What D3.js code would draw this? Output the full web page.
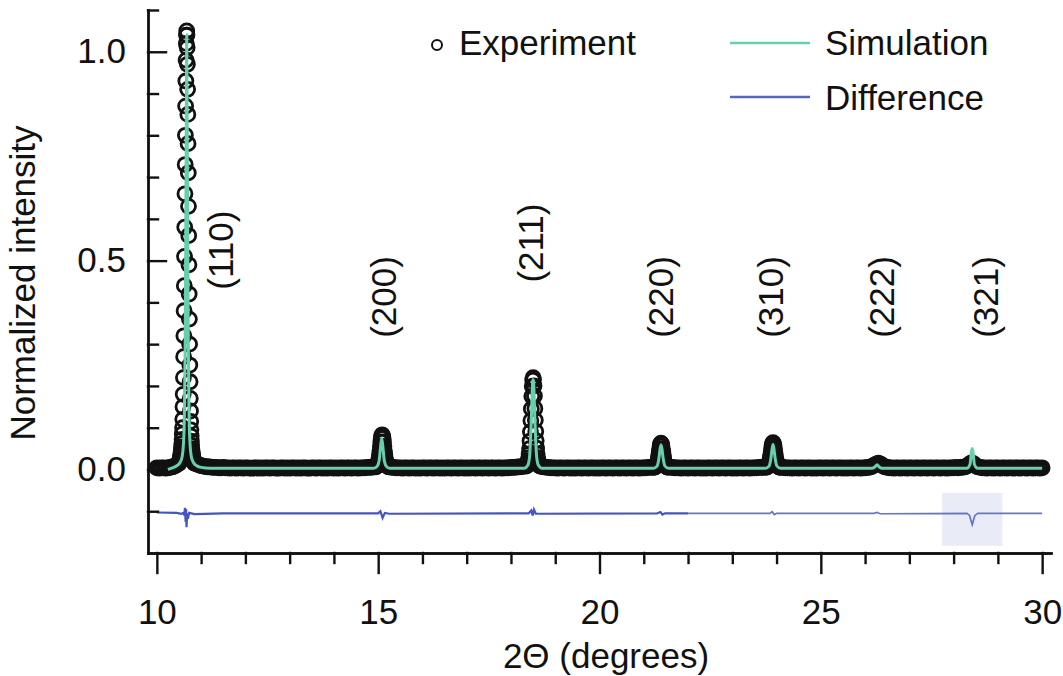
<!DOCTYPE html>
<html>
<head>
<meta charset="utf-8">
<script src="https://cdn.jsdelivr.net/npm/d3@7"></script>
<style>
  body { margin: 0; background: #fff; }
  text { font-family: "Liberation Sans", Arial, Helvetica, sans-serif; fill: #111; }
</style>
</head>
<body>
<svg id="xrd_chart" width="1063" height="676"></svg>
<script>
// ---- data ----
// experimental points, stored as (start, step, values) runs like an XRD scan file
const expBase1 = [.004,.003,.004,.004,.003,.004,.005,.006,.008,.011];
const exp110 = [
  .015,.016,.018,.020,.022,.024,.027,.030,.033,.037,.042,.047,.054,.062,.072,.085,.10,.12,.15,.18,
  .22,.27,.32,.38,.44,.51,.58,.66,.73,.80,.87,.93,.98,1.02,1.04,
  1.05,
  1.04,1.01,.97,.91,.85,.78,.71,.63,.56,.49,.42,.36,.30,.25,.21,.17,.14,.115,.095,.08,
  .068,.058,.05,.044,.039,.035,.031,.028,.025,.023,.021,.019,.017,.016,.015];
const expBase2 = [
  .013,.011,.009,.008,.007,.006,.006,.005,.005,.005,
  .004,.004,.005,.004,.004,.003,.004,.004,.003,.004,
  .004,.003,.004,.004,.003,.003,.004,.004,.003,.004,
  .003,.004,.004,.003,.004,.004,.003,.003,.004,.004,
  .003,.004,.003,.004,.004,.003,.004,.003,.004,.004,
  .003,.003,.004,.004,.003,.004,.004,.003,.004,.003,
  .004,.004,.003,.004,.003,.004,.004,.003,.004,.004,
  .003,.004,.004,.003,.004,.004,.004,.005,.005,.005,
  .006];
const exp200 = [.006,.007,.008,.009,.011,.013,.017,.021,.028,.036,.045,.055,.066,.075,.080,.083,
  .080,.075,.066,.055,.045,.036,.028,.021,.017,.013,.011,.009,.008,.007,.006];
const expBase3 = [
  .005,.005,.004,.004,.004,.003,.004,.004,.003,.004,
  .004,.003,.004,.003,.004,.004,.003,.004,.004,.003,
  .004,.004,.003,.004,.003,.004,.004,.003,.004,.004,
  .003,.004,.004,.003,.004,.003,.004,.004,.003,.004,
  .004,.003,.004,.004,.003,.004,.004,.003,.004,.004,
  .003,.004,.004,.004,.005,.005,.005,.006,.006,.007,
  .008];
const exp211 = [.008,.010,.013,.016,.021,.028,.037,.050,.068,.090,.117,.145,.175,.199,.214,.220,
  .215,.200,.176,.146,.118,.091,.069,.051,.038,.029,.022,.017,.013,.010,.008];
const expBase4 = [
  .007,.006,.005,.005,.004,.004,.004,.003,.004,.004,
  .003,.004,.004,.003,.004,.003,.004,.004,.003,.004,
  .004,.003,.004,.004,.003,.004,.003,.004,.004,.003,
  .004,.004,.003,.004,.004,.003,.004,.004,.003,.004,
  .004,.003,.004,.004,.003,.004,.004,.004,.005,.005,
  .005];
const exp220 = [.005,.006,.007,.008,.009,.011,.013,.017,.021,.027,.034,.042,.050,.057,.061,.063,
  .061,.057,.050,.042,.034,.027,.021,.017,.013,.011,.009,.008,.007,.006,.005];
const expBase5 = [
  .005,.005,.004,.004,.004,.003,.004,.004,.003,.004,
  .004,.003,.004,.004,.003,.004,.003,.004,.004,.003,
  .004,.004,.003,.004,.004,.003,.004,.004,.003,.004,
  .003,.004,.004,.003,.004,.004,.003,.004,.004,.004,
  .005,.005,.005];
const exp310 = [.005,.006,.007,.008,.010,.012,.014,.018,.022,.028,.035,.043,.051,.058,.062,.064,
  .062,.058,.051,.043,.035,.028,.022,.018,.014,.012,.010,.008,.007,.006,.005];
const expBase6 = [
  .005,.005,.004,.004,.004,.003,.004,.004,.003,.004,
  .004,.003,.004,.004,.003,.004,.003,.004,.004,.003,
  .004,.004,.003,.004,.004,.003,.004,.004,.003,.004,
  .003,.004,.004,.003,.004,.004,.003,.004,.004,.005,
  .005,.007,.010,.013,.015,.013,.009,.006,.005,.004,
  .004,.003,.004,.004,.003,.004,.004,.003,.004,.004,
  .003,.004,.004,.003,.004,.004,.003,.004,.004,.003,
  .004,.004,.003,.004,.004,.003,.004,.004,.004,.005,
  .004,.005,.005,.006,.008,.012,.016,.014,.009,.006,
  .005,.004,.004,.003,.004,.004,.003,.004,.004,.003,
  .004,.004,.003,.004,.004,.003,.004,.004,.003,.004,
  .004,.003,.004,.004,.003,.004,.004,.003,.004];

const expRuns = [
  [10.00, 0.05, expBase1],
  [10.50, 0.005, exp110],
  [10.90, 0.05, expBase2],
  [14.94, 0.01, exp200],
  [15.30, 0.05, expBase3],
  [18.35, 0.01, exp211],
  [18.70, 0.05, expBase4],
  [21.24, 0.01, exp220],
  [21.60, 0.05, expBase5],
  [23.77, 0.01, exp310],
  [24.10, 0.05, expBase6]
];

// simulated profile (2theta, intensity)
const simData = [
  [10.25,.000],[10.35,.004],[10.45,.009],[10.52,.016],[10.57,.03],[10.60,.06],[10.62,.12],[10.64,.30],
  [10.655,.60],[10.668,.90],[10.675,1.04],[10.682,.90],[10.695,.60],[10.71,.30],[10.73,.12],[10.75,.06],
  [10.78,.03],[10.83,.016],[10.9,.009],[11.0,.005],[11.2,.003],
  [14.9,.003],[14.98,.008],[15.02,.02],[15.05,.05],[15.08,.075],[15.11,.05],[15.14,.02],[15.18,.008],[15.26,.003],
  [18.3,.003],[18.38,.01],[18.42,.03],[18.46,.12],[18.49,.21],[18.50,.215],[18.51,.21],[18.54,.12],[18.58,.03],[18.62,.01],[18.7,.003],
  [21.22,.003],[21.3,.008],[21.34,.025],[21.37,.05],[21.39,.058],[21.41,.05],[21.44,.025],[21.48,.008],[21.56,.003],
  [23.75,.003],[23.83,.008],[23.87,.025],[23.90,.05],[23.92,.06],[23.94,.05],[23.97,.025],[24.01,.008],[24.09,.003],
  [26.15,.003],[26.22,.006],[26.27,.011],[26.32,.006],[26.39,.003],
  [28.30,.003],[28.37,.012],[28.40,.04],[28.42,.05],[28.44,.04],[28.47,.012],[28.54,.003],[30.0,.003]
];

// difference curve (offset below zero)
const diffData = [
  [10.0,-.103],[10.45,-.104],[10.55,-.106],[10.60,-.104],[10.62,-.110],[10.635,-.092],[10.65,-.125],
  [10.66,-.095],[10.67,-.138],[10.685,-.105],[10.70,-.118],[10.73,-.104],[10.85,-.107],[11.5,-.105],
  [15.0,-.105],[15.05,-.100],[15.10,-.116],[15.15,-.104],[15.25,-.106],
  [18.40,-.105],[18.46,-.098],[18.49,-.110],[18.52,-.096],[18.56,-.106],
  [21.30,-.105],[21.38,-.102],[21.42,-.108],[21.48,-.105],[22.0,-.105],
  [23.85,-.105],[23.90,-.101],[23.95,-.108],[24.0,-.105],
  [26.2,-.105],[26.27,-.103],[26.34,-.106],
  [28.30,-.105],[28.36,-.110],[28.42,-.132],[28.48,-.110],[28.55,-.105],[30.0,-.105]
];

// highlighted box around the (321) misfit
const shadeX = [27.74, 29.1];
const shadeY = [-0.183, -0.056];

const peakNames = ["(110)", "(200)", "(211)", "(220)", "(310)", "(222)", "(321)"];
const peakLabelX = [11.43, 15.11, 18.44, 21.38, 23.87, 26.36, 28.73];
const peakLabelY = [0.525, 0.413, 0.542, 0.413, 0.413, 0.413, 0.413];

const xMajor = [10, 15, 20, 25, 30];
const xMinor = [11, 12, 13, 14, 16, 17, 18, 19, 21, 22, 23, 24, 26, 27, 28, 29];
const yMajor = [0, 0.5, 1.0];
const yMinor = [-0.1, 0.1, 0.2, 0.3, 0.4, 0.6, 0.7, 0.8, 0.9, 1.1];

// ---- layout ----
const margin = {top: 10, right: 12, bottom: 123, left: 148},
    width = 1063 - margin.left - margin.right,
    height = 676 - margin.top - margin.bottom;

const simColor = "#68cfae";
const diffColor = "#4356c0";

const svg = d3.select("#xrd_chart");
const g = svg.append("g")
    .attr("transform", `translate(${margin.left}, ${margin.top})`);

const x = d3.scaleLinear().domain([9.8, 30.2]).range([0, width]);
const y = d3.scaleLinear().domain([-0.2, 1.1]).range([height, 0]);

// shaded box
g.append("rect")
  .attr("x", x(shadeX[0]))
  .attr("y", y(shadeY[1]))
  .attr("width", x(shadeX[1]) - x(shadeX[0]))
  .attr("height", y(shadeY[0]) - y(shadeY[1]))
  .attr("fill", "#e9ecf7");

// difference line (darker up to 22, lighter after)
const line = d3.line().x(d => x(d[0])).y(d => y(d[1]));
g.append("path")
  .datum(diffData.filter(d => d[0] <= 22))
  .attr("fill", "none")
  .attr("stroke", diffColor)
  .attr("stroke-width", 2.2)
  .attr("d", line);
g.append("path")
  .datum(diffData.filter(d => d[0] >= 22))
  .attr("fill", "none")
  .attr("stroke", "#6575cc")
  .attr("stroke-width", 1.7)
  .attr("d", line);

// experimental circles
const expPoints = expRuns.flatMap(([x0, dx, ys]) => ys.map((v, i) => [x0 + i * dx, v]));
g.append("g")
  .selectAll("circle")
  .data(expPoints)
  .join("circle")
    .attr("cx", d => x(d[0]))
    .attr("cy", d => y(d[1]))
    .attr("r", 7)
    .attr("fill", "none")
    .attr("stroke", "#111")
    .attr("stroke-width", 2.8);

// simulation
g.append("path")
  .datum(simData)
  .attr("fill", "none")
  .attr("stroke", simColor)
  .attr("stroke-width", 3)
  .attr("d", d3.line().curve(d3.curveMonotoneX).x(d => x(d[0])).y(d => y(d[1])));

// axes
function styleAxis(sel) {
  sel.selectAll("path, line").attr("stroke", "#111").attr("stroke-width", 2.4).attr("stroke-linecap", "square");
  sel.selectAll("text").style("font-size", "35px").attr("fill", "#111");
}
g.append("g")
  .attr("transform", `translate(0, ${height})`)
  .call(d3.axisBottom(x).tickValues(xMinor).tickSize(10).tickSizeOuter(0).tickFormat(""))
  .call(styleAxis);
g.append("g")
  .attr("transform", `translate(0, ${height})`)
  .call(d3.axisBottom(x).tickValues(xMajor).tickSize(20).tickSizeOuter(0).tickPadding(26).tickFormat(d3.format("d")))
  .call(styleAxis);
g.append("g")
  .call(d3.axisLeft(y).tickValues(yMinor).tickSize(-10).tickSizeOuter(0).tickFormat(""))
  .call(styleAxis);
g.append("g")
  .call(d3.axisLeft(y).tickValues(yMajor).tickSize(-18).tickSizeOuter(0).tickPadding(22).tickFormat(d3.format(".1f")))
  .call(styleAxis);

// axis titles
svg.append("text")
  .attr("transform", "translate(35, 283) rotate(-90)")
  .style("text-anchor", "middle")
  .style("font-size", "35px")
  .text("Normalized intensity");
svg.append("text")
  .attr("x", 606)
  .attr("y", 668)
  .style("text-anchor", "middle")
  .style("font-size", "35px")
  .text("2\u0398 (degrees)");

// peak labels
g.selectAll(".peak-label")
  .data(peakNames)
  .join("text")
    .attr("class", "peak-label")
    .attr("transform", (d, i) => `translate(${x(peakLabelX[i])}, ${y(peakLabelY[i])}) rotate(-90)`)
    .attr("dominant-baseline", "central")
    .style("text-anchor", "middle")
    .style("font-size", "35px")
    .text(d => d);

// legend
const legend = svg.append("g");
legend.append("circle")
  .attr("cx", 437).attr("cy", 45).attr("r", 5)
  .attr("fill", "none").attr("stroke", "#111").attr("stroke-width", 2);
legend.append("text").attr("x", 459).attr("y", 55).style("font-size", "35px").text("Experiment");
legend.append("line")
  .attr("x1", 730).attr("x2", 810).attr("y1", 43).attr("y2", 43)
  .attr("stroke", simColor).attr("stroke-width", 2.4);
legend.append("text").attr("x", 825).attr("y", 55).style("font-size", "35px").text("Simulation");
legend.append("line")
  .attr("x1", 730).attr("x2", 810).attr("y1", 97).attr("y2", 97)
  .attr("stroke", "#5566c4").attr("stroke-width", 2.4);
legend.append("text").attr("x", 825).attr("y", 110).style("font-size", "35px").text("Difference");
</script>
</body>
</html>
